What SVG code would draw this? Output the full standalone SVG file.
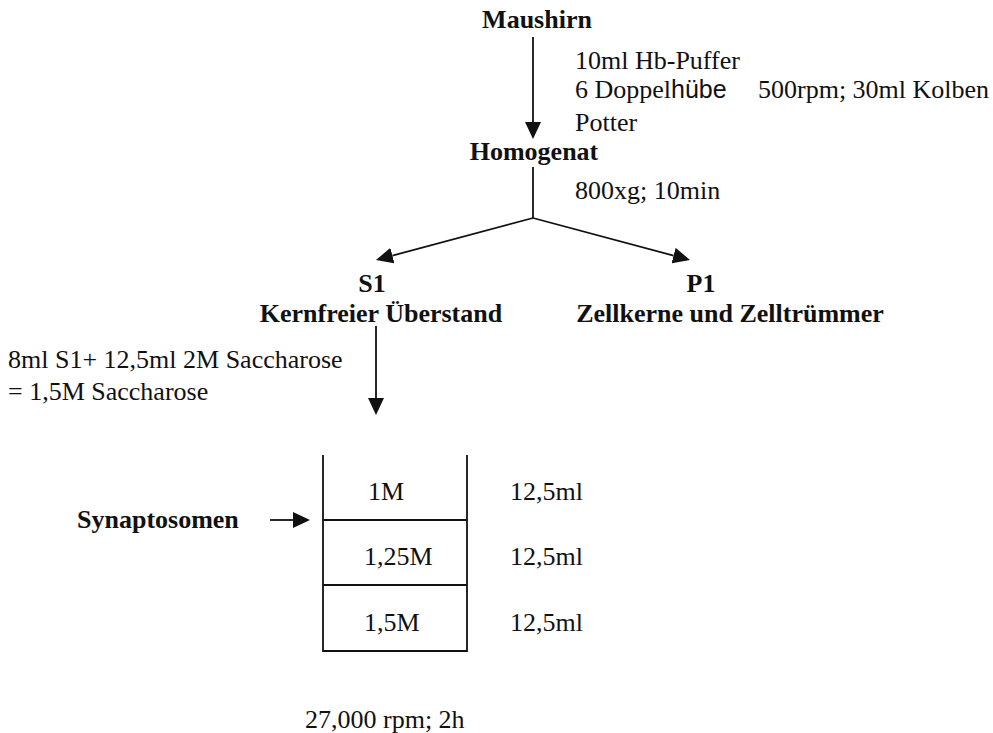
<svg xmlns="http://www.w3.org/2000/svg" width="993" height="733" viewBox="0 0 993 733">
<style>
text{font-family:"Liberation Serif","Times New Roman",serif;font-size:26px;fill:#111}
.b{font-weight:bold}
.m{text-anchor:middle}
.sans{font-family:"Liberation Sans",Arial,sans-serif;font-size:25px}
.ln{stroke:#111;stroke-width:1.8;fill:none}
</style>
<defs>
<marker id="ah" viewBox="0 -8 17 16" refX="0" refY="0" markerWidth="17" markerHeight="16" markerUnits="userSpaceOnUse" orient="auto">
<path d="M0,-8 L17,0 L0,8 z" fill="#111"/>
</marker>
</defs>
<rect width="993" height="733" fill="#fff"/>
<g id="maushirn"><text class="b m" x="537" y="28">Maushirn</text></g>
<g id="step1-label">
<text x="575" y="69">10ml Hb-Puffer</text>
<text x="575" y="98">6 Doppel<tspan class="sans">hübe</tspan></text>
<text x="758" y="98">500rpm; 30ml Kolben</text>
<text x="575" y="131">Potter</text>
</g>
<g id="homogenat"><text class="b m" x="534" y="160">Homogenat</text></g>
<g id="step2-label"><text x="575" y="199">800xg; 10min</text></g>
<g id="s1">
<text class="b m" x="372" y="292">S1</text>
<text class="b m" x="381" y="322">Kernfreier Überstand</text>
</g>
<g id="p1">
<text class="b m" x="701" y="292">P1</text>
<text class="b m" x="730" y="322">Zellkerne und Zelltrümmer</text>
</g>
<g id="step3-label">
<text x="8" y="368">8ml S1+ 12,5ml 2M Saccharose</text>
<text x="8" y="400">= 1,5M Saccharose</text>
</g>
<g id="gradient">
<path class="ln" d="M323,455 V651 H467 V455 M323,520 H467 M323,585 H467"/>
<text x="368" y="500">1M</text>
<text x="364" y="565">1,25M</text>
<text x="364" y="631">1,5M</text>
<text x="510" y="500">12,5ml</text>
<text x="510" y="565">12,5ml</text>
<text x="510" y="631">12,5ml</text>
</g>
<g id="synaptosomen"><text class="b" x="77" y="528">Synaptosomen</text></g>
<g id="step4-label"><text x="305" y="728">27,000 rpm; 2h</text></g>
<g id="connectors">
<line class="ln" x1="533" y1="37" x2="533" y2="122" marker-end="url(#ah)"/>
<line class="ln" x1="533" y1="167" x2="533" y2="218"/>
<line class="ln" x1="533" y1="218" x2="392.4" y2="255.6" marker-end="url(#ah)"/>
<line class="ln" x1="533" y1="218" x2="673.6" y2="255.6" marker-end="url(#ah)"/>
<line class="ln" x1="376" y1="326" x2="376" y2="398" marker-end="url(#ah)"/>
<line class="ln" x1="270" y1="520" x2="293" y2="520" marker-end="url(#ah)"/>
</g>
</svg>
